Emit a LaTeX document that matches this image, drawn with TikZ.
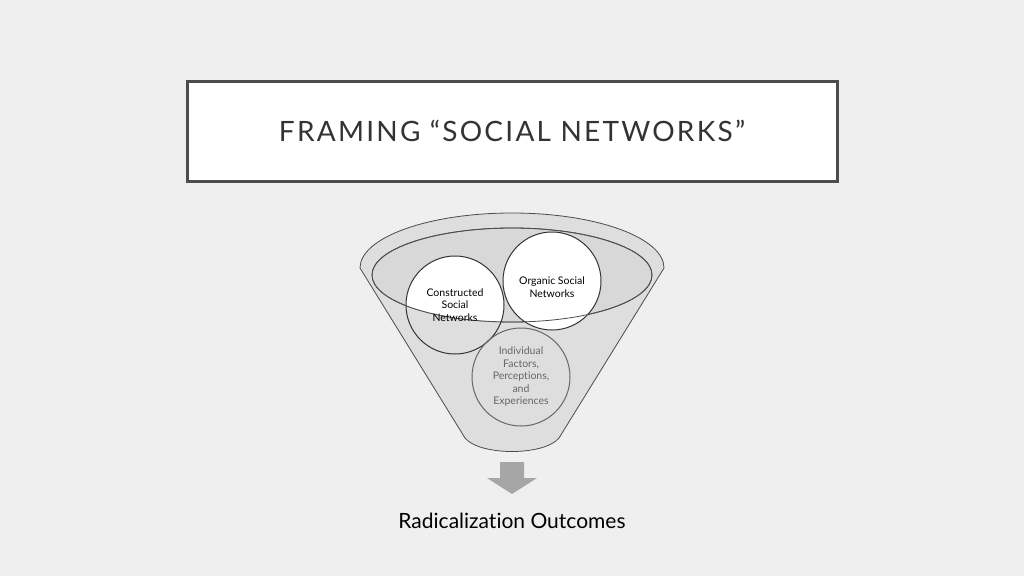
\documentclass[tikz,border=0pt]{standalone}
\usepackage{fontspec}
\setmainfont[Ligatures=NoCommon]{Lato}
\newfontfamily\titlefont[LetterSpace=8]{Lato}
\definecolor{bg}{HTML}{EFEFEF}
\definecolor{body}{HTML}{DEDEDE}
\definecolor{inner}{HTML}{D8D8D8}
\definecolor{arr}{HTML}{A6A6A6}
\tikzset{circ/.style={circle,draw=black!80,line width=1pt,minimum size=98pt,align=center,font=\fontsize{10}{12}\selectfont},
 edge/.style={draw=black!70,line width=0.8pt}}
\begin{document}
\begin{tikzpicture}[x=1pt,y=-1pt]
\fill[bg] (0,0) rectangle (1024,576);
\useasboundingbox (0,0) rectangle (1024,576);
\node[draw=black!70,line width=3pt,fill=white,minimum width=650pt,minimum height=100pt] (title) at (512,131)
 {\titlefont\fontsize{28}{32}\selectfont\color{black!80}FRAMING “SOCIAL NETWORKS”};
% funnel body
\path[edge,fill=body] (360,268) -- (465,438) .. controls (480,456) and (544,456) .. (559,438) -- (664,268)
  arc[start angle=0,end angle=-180,x radius=152,y radius=55] -- cycle;
\coordinate (ec) at (512,275);
\path[edge,fill=inner] (ec) ellipse[x radius=140,y radius=47];
\begin{scope}
\clip (ec) ellipse[x radius=140,y radius=47];
\fill[white] (455,305) circle[radius=49];
\end{scope}
\node[circ] (con) at (455,305) {};
\node[circ,fill=white] (org) at (552,281) {};
\draw[edge] (ec) ellipse[x radius=140,y radius=47];
\node[circ,draw=black!60] (ind) at (521,377) {};
\node[align=center,font=\fontsize{10.5}{12.5}\selectfont] at (con) {Constructed\\Social\\Networks};
\node[align=center,font=\fontsize{10.5}{12.5}\selectfont,yshift=-6pt] at (org) {Organic Social\\Networks};
\node[align=center,font=\fontsize{10.5}{12.5}\selectfont,text=black!60] at (ind) {Individual\\Factors,\\Perceptions,\\and\\Experiences};
\fill[arr] (500,462) -- (524,462) -- (524,478) -- (537,478) -- (512,494) -- (487,478) -- (500,478) -- cycle;
\node[font=\fontsize{21}{24}\selectfont] (out) at (512,521) {Radicalization Outcomes};
\end{tikzpicture}
\end{document}
